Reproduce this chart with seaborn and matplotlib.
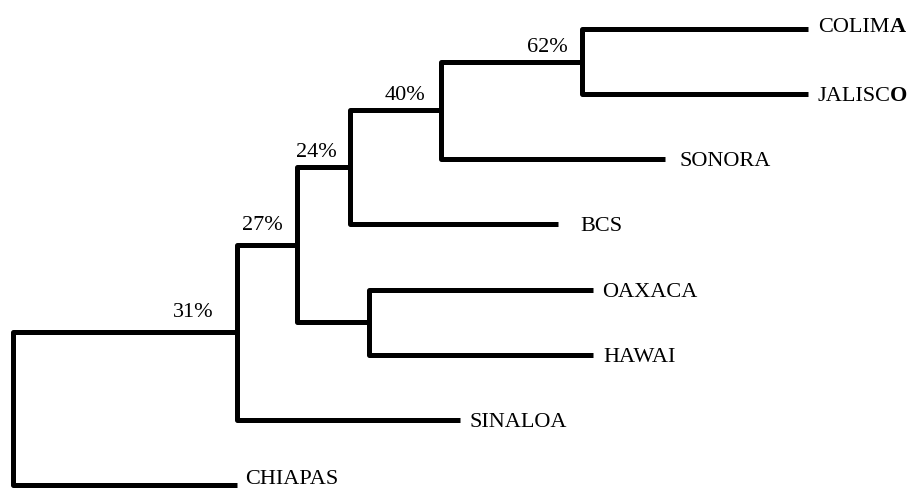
import matplotlib
matplotlib.use("Agg")
import matplotlib.pyplot as plt
import numpy as np
import pandas as pd
import seaborn as sns

# Leaves, top to bottom, and the depth at which each leaf branch ends
leaves = ["COLIMA", "JALISCO", "SONORA", "BCS", "OAXACA", "HAWAI", "SINALOA", "CHIAPAS"]
leaf_depth = [100.0, 100.0, 82.0, 68.6, 73.0, 73.0, 56.2, 28.2]
# Number of trailing letters printed in bold on each leaf label
bold_tail = [1, 1, 0, 0, 0, 0, 0, 0]

# Internal nodes as merges (ids 0-7 are leaves, merges get ids 8, 9, ...)
merge_left = [0, 8, 9, 4, 10, 12, 13]
merge_right = [1, 2, 3, 5, 11, 6, 7]
merge_depth = [71.6, 53.8, 42.4, 44.8, 35.7, 28.2, 0.0]
merge_support = ["62%", "40%", "24%", "", "27%", "31%", ""]

n_leaf = len(leaves)
node_x = list(leaf_depth)
node_y = list(range(n_leaf))
for l, r, d in zip(merge_left, merge_right, merge_depth):
    node_x.append(d)
    node_y.append((node_y[l] + node_y[r]) / 2.0)

# One bracket per merge: child1 end -> node -> node -> child2 end
rows = []
for i, (l, r) in enumerate(zip(merge_left, merge_right)):
    k = n_leaf + i
    pts = [(node_x[l], node_y[l]), (node_x[k], node_y[l]),
           (node_x[k], node_y[r]), (node_x[r], node_y[r])]
    for j, (x, y) in enumerate(pts):
        rows.append({"seg": i, "order": j, "x": x, "y": y})
segments = pd.DataFrame(rows)

sns.set_theme(style="white")
plt.rcParams["font.family"] = ["Liberation Serif", "DejaVu Serif"]

DPI = 100
PX = 72.0 / DPI  # points per pixel

fig = plt.figure(figsize=(9.07, 4.91), dpi=DPI)
ax = fig.add_axes([0, 0, 1, 1])

sns.lineplot(data=segments, x="x", y="y", units="seg", estimator=None, sort=False,
             color="black", linewidth=3.6, solid_capstyle="butt",
             solid_joinstyle="round", legend=False, ax=ax)

# Leaf labels: gap after the branch end and baseline drop below it (pixels)
label_gap = [10, 9, 15, 22, 9, 10, 10, 8]
label_drop = [3, 7, 7, 7, 7, 7, 7, -1]
for name, x, y, gap, drop, nb in zip(leaves, leaf_depth, range(n_leaf),
                                     label_gap, label_drop, bold_tail):
    head = name[:len(name) - nb] if nb else name
    t = ax.annotate(head, xy=(x, y), xytext=(gap * PX, -drop * PX),
                    textcoords="offset points", ha="left", va="baseline",
                    fontsize=16, color="black")
    if nb:
        ax.annotate(name[len(name) - nb:], xy=(1, 0), xycoords=t, ha="left",
                    va="bottom", fontsize=16, fontweight="bold", color="black")

# Support values up and left of the internal nodes (pixel offsets)
support_dx = [14, 15, 13, 0, 14, 24, 0]
support_dy = [10, 10, 10, 0, 15, 15, 0]
for i, s in enumerate(merge_support):
    if s:
        k = n_leaf + i
        ax.annotate(s, xy=(node_x[k], node_y[k]),
                    xytext=(-support_dx[i] * PX, support_dy[i] * PX),
                    textcoords="offset points", ha="right", va="baseline",
                    fontsize=16, color="black")

ax.set_xlim(-1.635, 112.45)
ax.set_ylim(7.092, -0.445)
ax.set_axis_off()

fig.savefig("out.png", dpi=DPI, facecolor="white")
